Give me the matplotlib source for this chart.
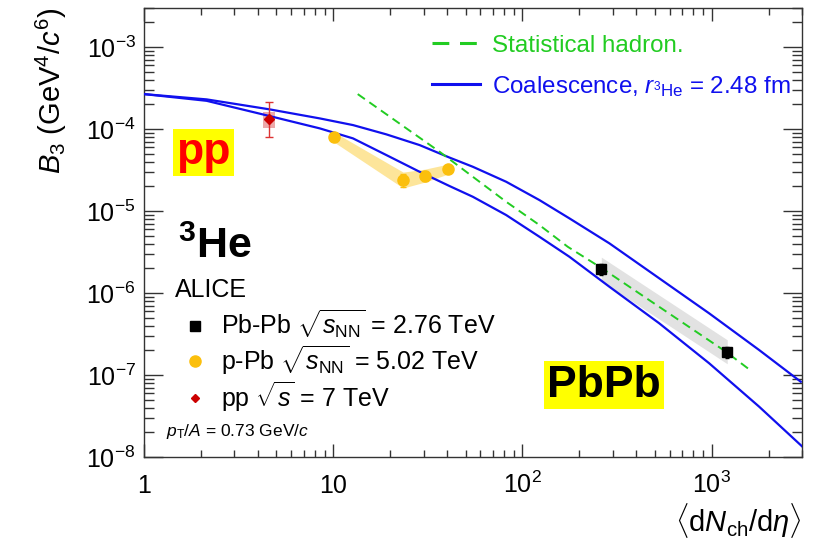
import numpy as np
import matplotlib
matplotlib.use('Agg')
import matplotlib.pyplot as plt
from matplotlib.lines import Line2D
from matplotlib.ticker import FixedLocator, NullFormatter

plt.rcParams['font.family'] = ['Liberation Sans', 'DejaVu Sans']
plt.rcParams['mathtext.fontset'] = 'custom'
plt.rcParams['mathtext.rm'] = 'Liberation Sans'
plt.rcParams['mathtext.it'] = 'Liberation Sans:italic'
plt.rcParams['mathtext.bf'] = 'Liberation Sans:bold'

# Pb-Pb, sqrt(sNN) = 2.76 TeV
pbpb_x = [261, 1208]
pbpb_y = [1.96e-6, 1.92e-7]
pbpb_stat = [0.30e-6, 0.30e-7]
pbpb_sys = [1.4, 1.4]          # multiplicative systematic

# p-Pb, sqrt(sNN) = 5.02 TeV
ppb_x = [10.1, 23.4, 30.4, 40.4]
ppb_y = [7.98e-5, 2.39e-5, 2.70e-5, 3.25e-5]
ppb_stat = [0.9e-5, 0.45e-5, 0.40e-5, 0.30e-5]
ppb_sys = [1.15, 1.25, 1.2, 1.15]

# pp, sqrt(s) = 7 TeV
pp_x = [4.6]
pp_y = [1.32e-4]
pp_stat_lo = [0.52e-4]
pp_stat_hi = [0.80e-4]
pp_sys_lo = [1.02e-4]
pp_sys_hi = [1.63e-4]

# coalescence band, r(3He) = 2.48 fm
coal_x = [1, 2.142, 4.623, 8.488, 12.72, 19.09, 28.61, 41.19, 54.67, 82.03,
          122.9, 177.0, 287.9, 528.4, 970.1, 1781]
coal_hi = [2.672e-4, 2.303e-4, 1.739e-4, 1.350e-4, 1.119e-4, 8.62e-5, 6.38e-5,
           4.49e-5, 3.47e-5, 2.277e-5, 1.362e-5, 8.15e-6, 4.04e-6, 1.511e-6,
           5.65e-7, 2.018e-7]
coal_lo = [2.672e-4, 2.213e-4, 1.440e-4, 1.020e-4, 7.70e-5, 4.82e-5, 3.014e-5,
           2.018e-5, 1.494e-5, 8.94e-6, 4.86e-6, 2.771e-6, 1.194e-6, 4.27e-7,
           1.389e-7, 4.11e-8]
coal_end_x = [2956, 3015]
coal_end_y = [8.28e-8, 1.336e-8]

# statistical hadronisation
shm_x = [13.47, 36.48, 54.67, 82.03, 122.9, 173.4, 263.4, 1188.6, 1577]
shm_y = [2.672e-4, 5.29e-5, 2.620e-5, 1.298e-5, 6.75e-6, 3.67e-6, 2.0e-6,
         1.923e-7, 1.173e-7]

xticks = [1, 10, 100, 1000]
xticklabels = ['1', '10', r'$10^{2}$', r'$10^{3}$']
yticks = [1e-8, 1e-7, 1e-6, 1e-5, 1e-4, 1e-3]
yticklabels = [r'$10^{%d}$' % e for e in range(-8, -2)]

blue = '#1010ee'
green = '#22cc22'

fig = plt.figure(figsize=(8.18, 5.43), dpi=100)
ax = fig.add_axes([144/818, 86/543, 658/818, 449/543])
ax.set_xscale('log')
ax.set_yscale('log')
ax.set_xlim(1, 3000)
ax.set_ylim(1e-8, 3e-3)

# systematic bands
pbpb_y = np.array(pbpb_y)
ax.fill_between(pbpb_x, pbpb_y / np.array(pbpb_sys), pbpb_y * np.array(pbpb_sys),
                color='#e2e2e2', lw=0, zorder=1)
ppb_y = np.array(ppb_y)
ax.fill_between(ppb_x, ppb_y / np.array(ppb_sys), ppb_y * np.array(ppb_sys),
                color='#fde59a', lw=0, zorder=1)
ax.fill_between([pp_x[0] * 0.925, pp_x[0] * 1.065], pp_sys_lo, pp_sys_hi,
                color='#e88c8c', alpha=0.75, lw=0, zorder=1)

# model curves
ax.plot(coal_x + coal_end_x[:1], coal_hi + coal_end_y[:1], color=blue, lw=1.6, zorder=3)
ax.plot(coal_x + coal_end_x[1:], coal_lo + coal_end_y[1:], color=blue, lw=1.6, zorder=3)
ax.plot(shm_x, shm_y, color=green, lw=1.4, ls=(0, (4.5, 2.8)), zorder=3)

# data points
ax.errorbar(pbpb_x, pbpb_y, yerr=pbpb_stat, fmt='s', color='black', ms=7,
            capsize=1.5, elinewidth=1, zorder=5)
ax.errorbar(ppb_x, ppb_y, yerr=ppb_stat, fmt='o', color='#fbbf0c', ms=8,
            capsize=2, elinewidth=1, zorder=5)
ax.errorbar(pp_x, pp_y, yerr=[pp_stat_lo, pp_stat_hi], fmt='D', color='#cc0000',
            ecolor='#dd3333', ms=5, capsize=3, elinewidth=1, zorder=5)

# axes: ROOT style ticks on all four sides
for s in ax.spines.values():
    s.set_color('#333333')
    s.set_linewidth(1.0)
ax.xaxis.set_major_locator(FixedLocator(xticks))
ax.set_xticklabels(xticklabels)
ax.xaxis.set_minor_locator(FixedLocator(
    [m * 10**d for d in range(0, 4) for m in range(2, 10) if m * 10**d <= 3000]))
ax.xaxis.set_minor_formatter(NullFormatter())
ax.yaxis.set_major_locator(FixedLocator(yticks))
ax.set_yticklabels(yticklabels)
ax.yaxis.set_minor_locator(FixedLocator(
    [m * 10.0**d for d in range(-8, -2) for m in range(2, 10) if m * 10.0**d <= 3e-3]))
ax.yaxis.set_minor_formatter(NullFormatter())

ax.tick_params(axis='both', which='both', direction='in', top=True, right=True,
               color='#333333', labelsize=18)
ax.tick_params(axis='x', which='major', length=9.5, width=1, pad=26)
ax.tick_params(axis='x', which='minor', length=5, width=1)
ax.tick_params(axis='y', which='major', length=14, width=1, pad=6)
ax.tick_params(axis='y', which='minor', length=7, width=1)
plt.setp(ax.get_xticklabels(), va='baseline')

ax.set_ylabel(r'$B_{3}$ (GeV$^{4}$/$c^{6}$)', fontsize=21, loc='top', labelpad=12)
ax.set_xlabel(r'$\langle$d$N_{\mathrm{ch}}$/d$\eta\rangle$', fontsize=21,
              loc='right', labelpad=2)

# model legend
model_handles = [
    Line2D([], [], color=green, lw=2.2, ls=(0, (5.5, 3.5))),
    Line2D([], [], color=blue, lw=2.2),
]
leg1 = ax.legend(model_handles,
                 ['Statistical hadron.', r'Coalescence, $r_{^{3}\mathrm{He}}$ = 2.48 fm'],
                 loc='upper left', bbox_to_anchor=(0.4377, 0.940), frameon=False,
                 fontsize=17.4, handlelength=2.0, handletextpad=0.5,
                 labelspacing=0.7, borderpad=0, borderaxespad=0)
for t, c in zip(leg1.get_texts(), [green, blue]):
    t.set_color(c)
ax.add_artist(leg1)

# data legend
data_handles = [
    Line2D([], [], ls='none', marker='s', color='black', ms=7),
    Line2D([], [], ls='none', marker='o', color='#fbbf0c', ms=8),
    Line2D([], [], ls='none', marker='D', color='#cc0000', ms=4.5),
]
ax.legend(data_handles,
          [r'Pb-Pb $\sqrt{s_{\mathrm{NN}}}$ = 2.76 TeV',
           r'p-Pb $\sqrt{s_{\mathrm{NN}}}$ = 5.02 TeV',
           r'pp $\sqrt{s}$ = 7 TeV'],
          loc='upper left', bbox_to_anchor=(0.0585, 0.331), frameon=False,
          fontsize=18, handlelength=1.0, handletextpad=0.55, labelspacing=0.1,
          borderpad=0, borderaxespad=0)

ax.text(0.047, 0.372, 'ALICE', transform=ax.transAxes, fontsize=18, va='center')
ax.text(0.051, 0.443, r'$^{\mathbf{3}}$He', transform=ax.transAxes, fontsize=31,
        fontweight='bold', va='baseline')
ax.text(0.034, 0.056, r'$p_{\mathrm{T}}/A$ = 0.73 GeV/$c$', transform=ax.transAxes,
        fontsize=12.5, va='center')
ax.text(0.0904, 0.679, 'pp', transform=ax.transAxes, fontsize=32, fontweight='bold',
        color='#ff0000', ha='center', va='center',
        bbox=dict(boxstyle='square,pad=0.07', fc='#ffff00', ec='none'))
ax.text(0.699, 0.160, 'PbPb', transform=ax.transAxes, fontsize=32, fontweight='bold',
        color='black', ha='center', va='center',
        bbox=dict(boxstyle='square,pad=0.08', fc='#ffff00', ec='none'))

fig.savefig('out.png', dpi=100)
